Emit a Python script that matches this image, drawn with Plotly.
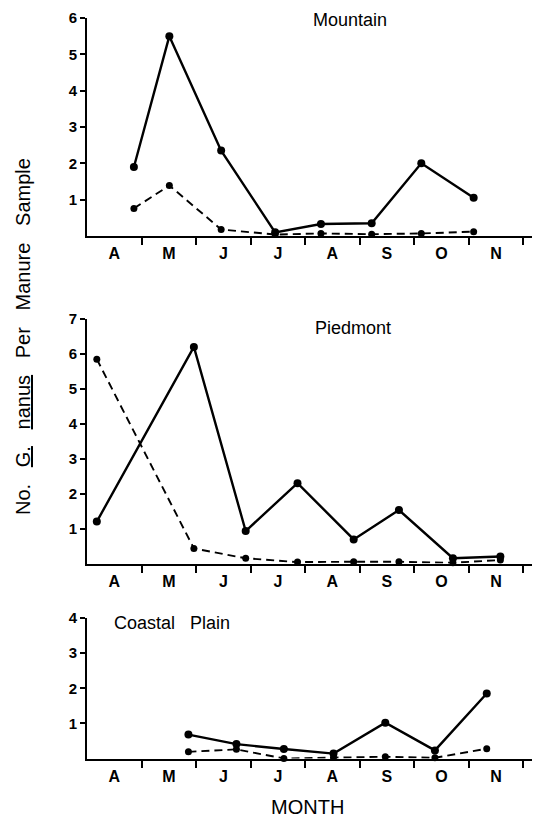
import plotly.graph_objects as go

# ---- data (x = months since 1 April; values = No. G. nanus per manure sample)
months = ["A", "M", "J", "J", "A", "S", "O", "N"]

mountain_x = [0.86, 1.51, 2.46, 3.45, 4.29, 5.22, 6.13, 7.09]
mountain_solid = [1.9, 5.5, 2.35, 0.1, 0.33, 0.35, 2.0, 1.05]
mountain_dashed = [0.76, 1.39, 0.18, 0.04, 0.07, 0.05, 0.07, 0.12]

piedmont_x = [0.18, 1.96, 2.91, 3.86, 4.89, 5.72, 6.71, 7.58]
piedmont_solid = [1.2, 6.2, 0.93, 2.3, 0.69, 1.53, 0.15, 0.2]
piedmont_dashed = [5.85, 0.43, 0.15, 0.04, 0.05, 0.05, 0.02, 0.1]

coastal_x = [1.86, 2.74, 3.61, 4.52, 5.47, 6.38, 7.33]
coastal_solid = [0.68, 0.41, 0.27, 0.14, 1.02, 0.23, 1.85]
coastal_dashed = [0.19, 0.26, 0.0, 0.03, 0.05, 0.02, 0.28]

panels = [
    ("Mountain", mountain_x, mountain_solid, mountain_dashed, 6),
    ("Piedmont", piedmont_x, piedmont_solid, piedmont_dashed, 7),
    ("Coastal Plain", coastal_x, coastal_solid, coastal_dashed, 4),
]

W, H = 536, 820
FONT = "Liberation Sans, Arial, sans-serif"

# pixel layout of the three plot areas (top, bottom)
areas = [(18, 236), (319, 563.5), (618, 758.5)]
x_left, x_right = 87, 532

fig = go.Figure()
layout = {}
for i, ((name, xs, solid, dashed, ymax), (top, bot)) in enumerate(zip(panels, areas)):
    xa = "x" if i == 0 else f"x{i+1}"
    ya = "y" if i == 0 else f"y{i+1}"
    fig.add_trace(go.Scatter(
        x=xs, y=dashed, xaxis=xa, yaxis=ya, mode="lines+markers",
        line=dict(color="black", width=1.9, dash="8px,5px"),
        marker=dict(color="black", size=7), cliponaxis=False, showlegend=False))
    fig.add_trace(go.Scatter(
        x=xs, y=solid, xaxis=xa, yaxis=ya, mode="lines+markers",
        line=dict(color="black", width=2.4),
        marker=dict(color="black", size=8), cliponaxis=False, showlegend=False))
    kx = "xaxis" if i == 0 else f"xaxis{i+1}"
    ky = "yaxis" if i == 0 else f"yaxis{i+1}"
    layout[kx] = dict(
        domain=[x_left / W, x_right / W], range=[0, 8.16], anchor=ya, automargin=False,
        showline=True, linecolor="black", linewidth=2, showgrid=False, zeroline=False,
        tickvals=[m + 0.5 for m in range(8)], ticktext=months, ticks="",
        ticklabelstandoff=2,
        tickfont=dict(family=FONT, size=16, color="black", weight="bold"),
        minor=dict(tickvals=list(range(1, 9)), ticks="outside", ticklen=7,
                   tickwidth=2, tickcolor="black", showgrid=False),
        fixedrange=True)
    layout[ky] = dict(
        domain=[1 - bot / H, 1 - top / H], range=[0, ymax], anchor=xa, automargin=False,
        showline=True, linecolor="black", linewidth=2, showgrid=False, zeroline=False,
        tickvals=list(range(1, ymax + 1)), ticks="outside", ticklen=5, tickwidth=2,
        tickcolor="black",
        tickfont=dict(family=FONT, size=15, color="black", weight="bold"),
        fixedrange=True)

fig.update_layout(**layout)

sp = "\u00a0\u00a0\u00a0"
annotations = [
    dict(text="Mountain", x=350 / W, y=1 - 20 / H, xanchor="center", yanchor="middle",
         font=dict(size=18)),
    dict(text="Piedmont", x=353 / W, y=1 - 328 / H, xanchor="center", yanchor="middle",
         font=dict(size=18)),
    dict(text="Coastal\u00a0\u00a0\u00a0Plain", x=112 / W, y=1 - 623 / H, xanchor="left",
         yanchor="middle", font=dict(size=18)),
    dict(text="MONTH", x=307 / W, y=1 - 807 / H, xanchor="center", yanchor="middle",
         font=dict(size=20)),
    dict(text=f"No.{sp}<u>G.</u>{sp}<u>nanus</u>{sp}Per{sp}Manure{sp}Sample",
         x=23 / W, y=1 - 337 / H, xanchor="center", yanchor="middle", textangle=-90,
         font=dict(size=20)),
]
for a in annotations:
    a.update(xref="paper", yref="paper", showarrow=False)
    a["font"].update(family=FONT, color="black")

fig.update_layout(
    width=W, height=H, margin=dict(l=0, r=0, t=0, b=0, autoexpand=False),
    paper_bgcolor="white", plot_bgcolor="white",
    annotations=annotations, showlegend=False)

fig.write_html("out.html", config={"displayModeBar": False})
